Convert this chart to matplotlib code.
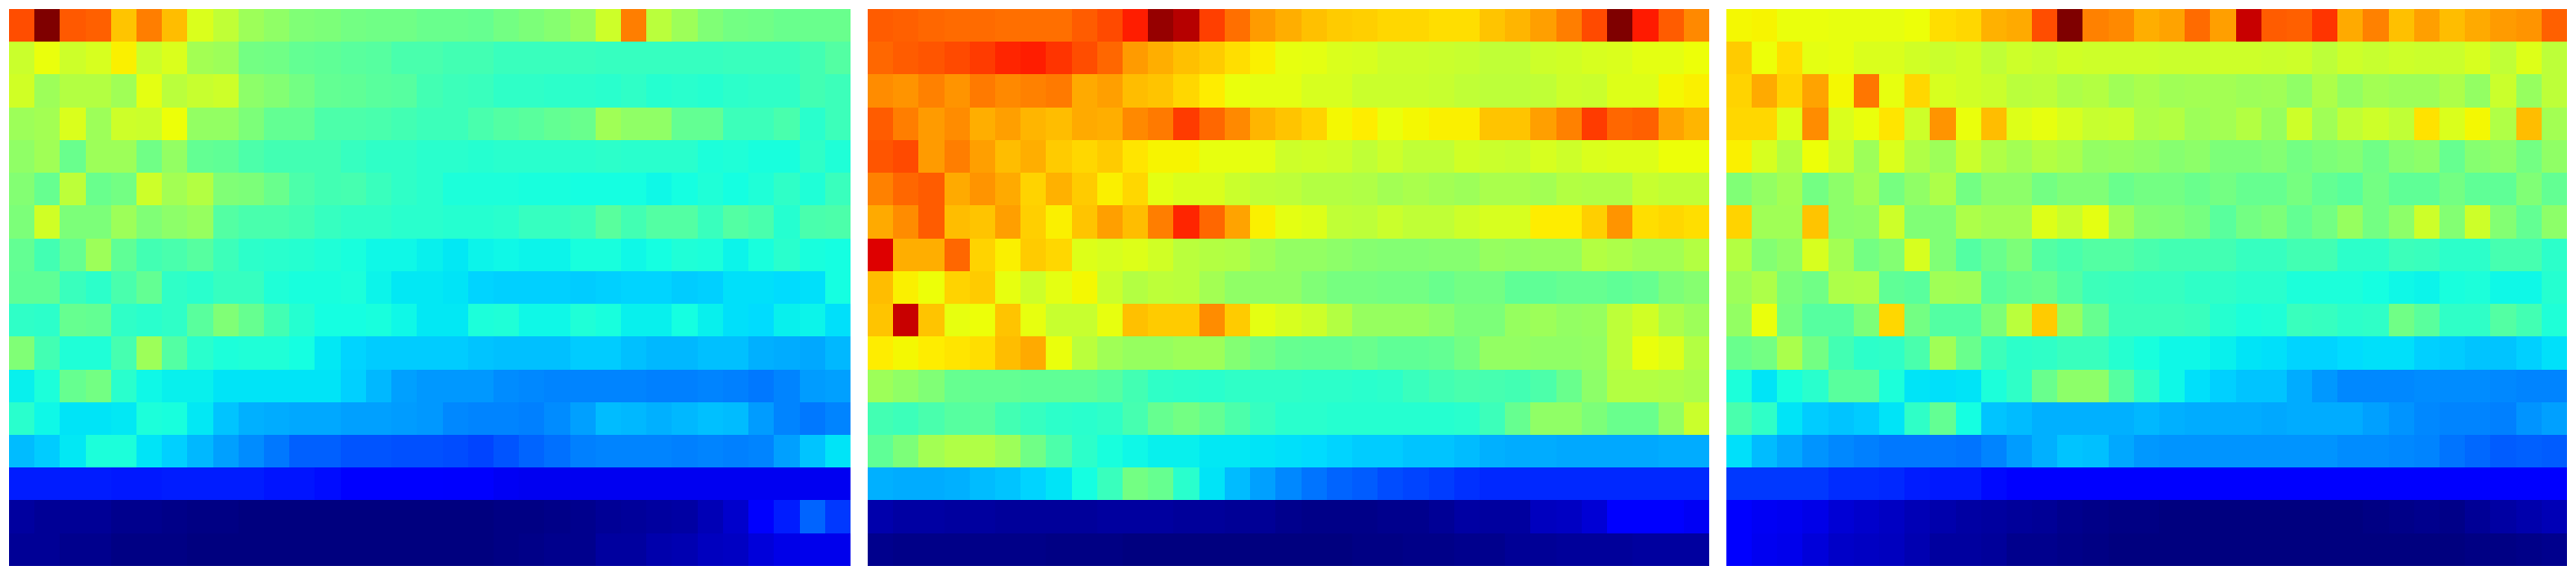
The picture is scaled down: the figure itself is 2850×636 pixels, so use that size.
import matplotlib
matplotlib.use('Agg')
import matplotlib.pyplot as plt
import numpy as np

# values, as positions on the jet scale (0..1)
panel_a = [
    [.825,1.0,.815,.805,.70,.775,.71,.615,.585,.54,.525,.505,.50,.49,.485,.485,.48,.48,.475,.49,.50,.515,.535,.60,.775,.575,.54,.505,.49,.485,.48,.48,.48],
    [.595,.635,.60,.61,.655,.595,.615,.55,.54,.49,.485,.47,.465,.46,.455,.44,.44,.43,.43,.42,.42,.42,.42,.415,.415,.415,.415,.415,.42,.42,.42,.43,.45],
    [.605,.54,.57,.57,.545,.625,.575,.59,.60,.52,.51,.49,.47,.465,.46,.455,.43,.425,.42,.41,.41,.405,.405,.40,.41,.395,.40,.395,.405,.41,.41,.43,.425],
    [.54,.55,.615,.54,.60,.595,.64,.53,.53,.50,.47,.47,.445,.445,.44,.43,.425,.425,.44,.45,.46,.47,.48,.545,.525,.525,.47,.47,.425,.425,.44,.40,.425],
    [.525,.545,.48,.54,.54,.485,.53,.47,.465,.445,.43,.43,.43,.415,.41,.41,.40,.40,.395,.40,.40,.40,.40,.405,.40,.40,.40,.385,.39,.38,.38,.41,.39],
    [.51,.475,.58,.48,.49,.60,.55,.57,.505,.50,.48,.445,.43,.435,.42,.41,.40,.385,.385,.385,.38,.38,.375,.375,.375,.37,.375,.39,.375,.39,.41,.39,.42],
    [.50,.605,.50,.50,.54,.505,.52,.535,.45,.44,.44,.43,.415,.41,.41,.40,.40,.395,.395,.40,.415,.415,.425,.46,.43,.45,.45,.42,.45,.44,.395,.44,.445],
    [.47,.43,.475,.54,.465,.43,.44,.455,.425,.405,.40,.395,.39,.38,.37,.37,.36,.355,.365,.37,.365,.365,.38,.38,.37,.375,.39,.385,.365,.38,.40,.38,.375],
    [.465,.465,.42,.405,.44,.47,.41,.40,.415,.415,.39,.38,.38,.385,.365,.355,.355,.35,.335,.33,.33,.33,.325,.33,.335,.335,.325,.33,.345,.345,.34,.345,.375],
    [.41,.405,.475,.47,.41,.40,.41,.46,.505,.475,.43,.395,.375,.375,.38,.37,.355,.355,.385,.39,.37,.37,.39,.38,.36,.36,.375,.36,.345,.34,.36,.365,.345],
    [.505,.43,.39,.39,.435,.54,.45,.40,.385,.39,.39,.375,.355,.335,.325,.325,.325,.325,.32,.315,.315,.315,.325,.325,.315,.305,.305,.315,.315,.30,.295,.29,.305],
    [.36,.385,.475,.49,.40,.37,.36,.36,.35,.35,.35,.35,.35,.33,.305,.285,.275,.275,.275,.265,.26,.255,.255,.255,.255,.25,.25,.255,.25,.245,.255,.28,.285],
    [.40,.37,.35,.35,.355,.385,.38,.355,.32,.30,.295,.29,.29,.285,.285,.28,.275,.26,.255,.255,.25,.265,.285,.31,.305,.30,.305,.315,.31,.28,.255,.245,.255],
    [.31,.325,.355,.385,.385,.35,.33,.305,.285,.265,.245,.22,.22,.21,.21,.205,.205,.20,.195,.21,.225,.235,.25,.255,.255,.255,.25,.255,.25,.255,.285,.32,.35],
    [.155,.155,.155,.155,.15,.15,.155,.155,.155,.155,.145,.145,.14,.125,.115,.115,.115,.11,.11,.105,.10,.10,.10,.10,.10,.10,.10,.10,.10,.10,.10,.10,.10],
    [.03,.02,.02,.02,.015,.015,.01,.005,.005,0,0,0,0,0,0,0,0,0,.003,.005,.005,.01,.015,.02,.025,.03,.035,.05,.07,.11,.155,.225,.18],
    [.02,.02,.015,.015,.005,.005,.005,0,0,0,0,0,0,0,0,0,0,0,.003,.005,.01,.015,.015,.03,.03,.04,.045,.055,.06,.08,.09,.095,.095],
]

panel_b = [
    [.81,.805,.80,.795,.795,.79,.79,.79,.81,.83,.876,.978,.95,.84,.79,.745,.724,.705,.695,.69,.68,.68,.675,.675,.70,.715,.74,.775,.83,1.0,.88,.81,.765],
    [.80,.81,.82,.83,.845,.87,.875,.855,.825,.80,.745,.725,.705,.695,.675,.655,.63,.625,.615,.61,.60,.60,.595,.59,.585,.585,.60,.605,.61,.615,.625,.625,.64],
    [.76,.75,.77,.75,.78,.765,.77,.78,.73,.74,.71,.70,.68,.66,.635,.625,.625,.61,.61,.595,.595,.595,.59,.585,.58,.58,.585,.60,.595,.62,.62,.645,.655],
    [.81,.775,.745,.76,.725,.74,.715,.71,.73,.725,.765,.78,.845,.80,.765,.715,.70,.685,.645,.66,.635,.645,.655,.655,.70,.70,.74,.77,.845,.80,.805,.735,.715],
    [.82,.83,.745,.775,.74,.71,.725,.695,.68,.695,.665,.65,.65,.63,.63,.625,.60,.605,.60,.585,.60,.585,.585,.605,.595,.59,.61,.60,.615,.62,.62,.64,.64],
    [.77,.80,.81,.73,.75,.73,.685,.72,.695,.655,.68,.625,.615,.615,.595,.585,.58,.57,.57,.565,.55,.555,.55,.54,.555,.555,.55,.57,.565,.565,.59,.585,.585],
    [.73,.76,.81,.71,.70,.74,.69,.655,.70,.74,.71,.775,.87,.80,.735,.655,.625,.62,.585,.58,.595,.585,.585,.60,.61,.61,.66,.66,.69,.75,.675,.68,.675],
    [.916,.725,.725,.80,.685,.655,.695,.68,.62,.61,.62,.605,.575,.57,.565,.545,.53,.53,.52,.515,.51,.51,.515,.515,.535,.53,.535,.535,.57,.56,.55,.55,.57],
    [.71,.655,.64,.685,.695,.63,.60,.625,.645,.595,.57,.58,.575,.55,.525,.525,.525,.505,.495,.495,.49,.49,.48,.49,.49,.465,.465,.475,.475,.465,.475,.50,.515],
    [.70,.935,.70,.63,.64,.70,.63,.59,.59,.63,.705,.695,.695,.76,.695,.625,.61,.60,.57,.535,.535,.535,.52,.50,.50,.535,.54,.53,.535,.58,.605,.56,.54],
    [.66,.645,.66,.665,.675,.71,.73,.635,.575,.545,.535,.535,.54,.54,.51,.49,.475,.47,.47,.48,.465,.465,.47,.49,.53,.53,.525,.525,.53,.58,.635,.62,.57],
    [.54,.525,.505,.475,.47,.47,.465,.465,.465,.455,.43,.41,.405,.40,.41,.41,.41,.405,.405,.40,.405,.42,.43,.44,.435,.43,.445,.48,.52,.57,.57,.565,.555],
    [.43,.425,.44,.455,.46,.43,.415,.405,.40,.41,.435,.475,.49,.47,.445,.415,.40,.40,.395,.395,.395,.395,.395,.40,.425,.475,.525,.525,.50,.48,.48,.53,.595],
    [.465,.50,.55,.565,.565,.54,.485,.445,.405,.38,.37,.36,.36,.355,.355,.35,.345,.34,.335,.325,.325,.32,.32,.31,.30,.295,.295,.29,.29,.29,.29,.295,.295],
    [.30,.295,.295,.30,.31,.32,.335,.35,.375,.42,.49,.475,.40,.35,.31,.285,.26,.24,.225,.215,.20,.195,.185,.175,.165,.165,.165,.165,.165,.165,.165,.165,.165],
    [.04,.035,.035,.03,.03,.025,.025,.025,.025,.03,.03,.03,.025,.025,.02,.02,.015,.01,.01,.01,.015,.015,.02,.035,.03,.03,.055,.06,.075,.115,.115,.115,.105],
    [.015,.01,.01,.01,.01,.01,.01,.005,.005,.005,0,0,0,0,0,0,0,0,.003,.005,.005,.01,.01,.015,.015,.02,.02,.025,.025,.025,.03,.03,.03],
]

panel_c = [
    [.645,.65,.635,.635,.63,.63,.63,.64,.675,.68,.72,.73,.825,1.0,.77,.765,.725,.735,.795,.74,.934,.81,.805,.855,.73,.77,.705,.74,.71,.73,.745,.75,.805],
    [.695,.64,.675,.625,.63,.615,.615,.605,.595,.605,.585,.60,.59,.605,.60,.60,.60,.595,.595,.60,.60,.595,.60,.58,.60,.59,.60,.595,.595,.61,.585,.62,.58],
    [.685,.73,.685,.735,.645,.785,.63,.68,.61,.605,.595,.575,.58,.56,.57,.545,.555,.545,.55,.55,.54,.545,.525,.56,.53,.55,.54,.54,.56,.53,.595,.535,.58],
    [.68,.68,.62,.76,.615,.635,.665,.60,.75,.635,.71,.62,.63,.61,.59,.595,.56,.57,.54,.55,.57,.535,.60,.545,.585,.60,.585,.67,.615,.645,.565,.71,.55],
    [.655,.61,.57,.64,.60,.54,.615,.565,.54,.595,.565,.55,.57,.555,.53,.535,.525,.515,.52,.50,.50,.51,.49,.50,.51,.485,.515,.52,.475,.515,.52,.49,.525],
    [.505,.53,.55,.49,.52,.55,.495,.525,.56,.49,.52,.52,.49,.505,.505,.48,.49,.49,.48,.49,.475,.475,.495,.47,.46,.49,.465,.465,.49,.465,.465,.505,.47],
    [.685,.545,.545,.70,.52,.525,.60,.505,.505,.56,.55,.55,.62,.59,.625,.545,.51,.505,.495,.46,.49,.50,.47,.49,.535,.49,.52,.60,.51,.60,.51,.47,.52],
    [.57,.51,.525,.61,.55,.49,.51,.61,.505,.45,.48,.50,.45,.44,.45,.45,.44,.43,.43,.43,.415,.415,.43,.43,.405,.405,.425,.42,.405,.405,.435,.435,.405],
    [.54,.56,.50,.485,.56,.565,.465,.46,.545,.54,.46,.47,.48,.45,.425,.42,.415,.415,.41,.41,.40,.40,.385,.385,.385,.375,.37,.365,.38,.385,.37,.37,.395],
    [.53,.635,.495,.455,.455,.50,.68,.49,.45,.45,.50,.575,.695,.535,.475,.425,.425,.425,.42,.395,.385,.39,.42,.415,.405,.41,.485,.46,.41,.41,.45,.43,.39],
    [.48,.49,.555,.49,.43,.405,.41,.44,.545,.48,.425,.405,.41,.42,.42,.395,.38,.37,.37,.36,.35,.345,.335,.335,.34,.345,.345,.33,.325,.32,.32,.33,.345],
    [.385,.35,.38,.40,.46,.46,.385,.35,.345,.35,.385,.41,.48,.52,.52,.455,.41,.37,.345,.33,.32,.32,.295,.275,.26,.26,.26,.265,.265,.265,.26,.255,.255],
    [.44,.41,.35,.325,.32,.325,.35,.41,.47,.375,.32,.31,.30,.30,.30,.30,.305,.30,.295,.295,.295,.29,.295,.295,.295,.285,.27,.26,.255,.255,.25,.27,.285],
    [.345,.31,.29,.27,.26,.25,.245,.245,.245,.24,.255,.28,.30,.32,.315,.29,.275,.27,.27,.27,.27,.27,.27,.27,.265,.265,.26,.255,.24,.23,.215,.22,.215],
    [.18,.18,.18,.18,.17,.17,.165,.155,.15,.15,.135,.125,.12,.12,.12,.115,.115,.115,.115,.115,.115,.115,.115,.115,.115,.115,.115,.115,.115,.115,.115,.115,.115],
    [.115,.105,.10,.09,.075,.07,.06,.05,.04,.035,.03,.025,.02,.015,.01,.005,.005,0,0,0,0,0,0,0,.003,.005,.01,.015,.01,.02,.035,.04,.05],
    [.115,.10,.095,.08,.065,.06,.055,.045,.03,.03,.025,.015,.015,.01,.005,.003,.003,0,0,0,0,0,0,0,0,0,0,.003,.003,.005,.005,.01,.015],
]

fig = plt.figure(figsize=(28.5, 6.36), dpi=100)
lefts = [10, 960, 1910]

for left, panel in zip(lefts, [panel_a, panel_b, panel_c]):
    ax = fig.add_axes([left / 2850, 10 / 636, 930 / 2850, 616 / 636])
    ax.imshow(np.array(panel), cmap='jet', vmin=0, vmax=1, aspect='auto', interpolation='nearest')
    ax.axis('off')

plt.savefig('out.png', dpi=100)
